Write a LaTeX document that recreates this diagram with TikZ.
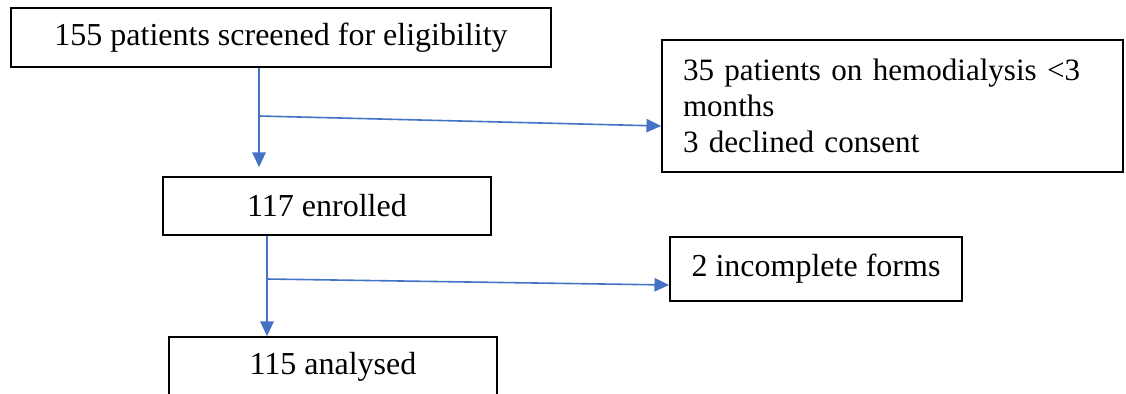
\documentclass[tikz,border=0pt]{standalone}
\usepackage{fontspec}
\setmainfont{Liberation Serif}
\usepackage{tikz}
\usetikzlibrary{arrows.meta}
\definecolor{flowBlue}{RGB}{68,114,196}

\begin{document}
\begin{tikzpicture}[x=0.75pt, y=-0.75pt,
	flowBox/.style={rectangle, draw=black, line width=1.3pt, inner sep=0pt, font=\fontsize{24}{26.6}\selectfont},
	flowArrow/.style={draw=flowBlue, line width=1.2pt, -{Triangle[length=11pt, width=10pt]}}]
	\useasboundingbox (0,0) rectangle (1126,393);

	\node[flowBox, minimum width=405pt, minimum height=44.25pt](screened) at (281,37.5){155 patients screened for eligibility};
	\node[flowBox, minimum width=345.75pt, minimum height=99pt, text width=314.25pt, inner xsep=15.75pt, align=left, font=\fontsize{23.3}{27}\selectfont](excluded) at (892.5,106){35 patients on hemodialysis \textless3\\months\\3 declined consent};

	\node[flowBox, minimum width=246pt, minimum height=43.5pt](enrolled) at (327,206){117 enrolled};
	\node[flowBox, minimum width=219pt, minimum height=48pt](incomplete) at (816,269){2 incomplete forms};

	\node[flowBox, minimum width=246pt, minimum height=45pt](analysed) at (333,367){115 analysed};

	\coordinate(split1) at (259,116);
	\coordinate(split2) at (267,279);
	\draw[flowArrow, shorten >=6.75pt] (screened.south -| split1) -- (enrolled.north -| split1);
	\draw[flowArrow] (split1) -- ([yshift=-15pt]excluded.west);
	\draw[flowArrow] (enrolled.south -| split2) -- (analysed.north -| split2);
	\draw[flowArrow] (split2) -- ([yshift=-12pt]incomplete.west);
\end{tikzpicture}
\end{document}
